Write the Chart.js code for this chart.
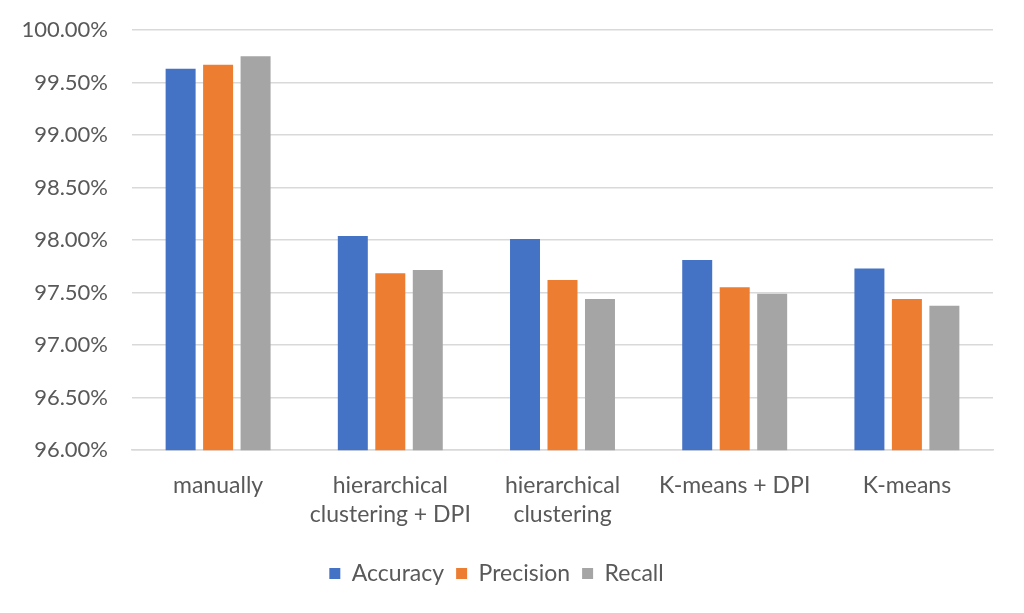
<!DOCTYPE html>
<html>
<head>
<meta charset="utf-8">
<script src="https://cdn.jsdelivr.net/npm/chart.js@4/dist/chart.umd.min.js"></script>
<style>
html,body{margin:0;padding:0;background:#fff;}
#wrap{width:1024px;height:613px;}
</style>
</head>
<body>
<div id="wrap"><canvas id="c" width="1024" height="613"></canvas></div>
<script>
const categories = ["manually", ["hierarchical", "clustering + DPI"], ["hierarchical", "clustering"], "K-means + DPI", "K-means"];
const accuracy = [99.63, 98.04, 98.01, 97.81, 97.73];
const precision = [99.67, 97.685, 97.62, 97.55, 97.44];
const recall = [99.75, 97.715, 97.44, 97.49, 97.375];
const yTicks = [96, 96.5, 97, 97.5, 98, 98.5, 99, 99.5, 100];
const seriesNames = ["Accuracy", "Precision", "Recall"];
const colors = ["#4472C4", "#ED7D31", "#A5A5A5"];

const FONT = "Lato, 'Open Sans', sans-serif";
const textColor = "#595959";

new Chart(document.getElementById('c'), {
  type: 'bar',
  data: {
    labels: categories,
    datasets: [accuracy, precision, recall].map((d, i) => ({
      label: seriesNames[i],
      data: d,
      backgroundColor: colors[i],
      borderWidth: 0,
      categoryPercentage: 0.653,
      barPercentage: 0.8
    }))
  },
  options: {
    responsive: false,
    animation: false,
    devicePixelRatio: 1,
    layout: { padding: { top: 30, right: 31, left: 0, bottom: 18 } },
    plugins: {
      tooltip: { enabled: false },
      legend: {
        position: 'bottom',
        labels: {
          boxWidth: 11, boxHeight: 11,
          padding: 12,
          color: textColor,
          font: { family: FONT, size: 23 }
        }
      }
    },
    scales: {
      x: {
        grid: { display: false, drawTicks: false },
        border: { display: true, color: '#D9D9D9', width: 1.5 },
        ticks: {
          color: textColor,
          padding: 20,
          maxRotation: 0,
          autoSkip: false,
          font: { family: FONT, size: 23, lineHeight: 1.3 }
        }
      },
      y: {
        min: 96, max: 100,
        afterFit: (s) => { s.width = 132; s.paddingTop = 0; s.paddingBottom = 0; },
        afterBuildTicks: (s) => { s.ticks = yTicks.map(v => ({ value: v })); },
        grid: { color: '#D9D9D9', lineWidth: 1.5, drawTicks: false },
        border: { display: false },
        ticks: {
          color: textColor,
          padding: 24,
          font: { family: FONT, size: 22 },
          callback: (v) => v.toFixed(2) + '%'
        }
      }
    }
  }
});
</script>
</body>
</html>
